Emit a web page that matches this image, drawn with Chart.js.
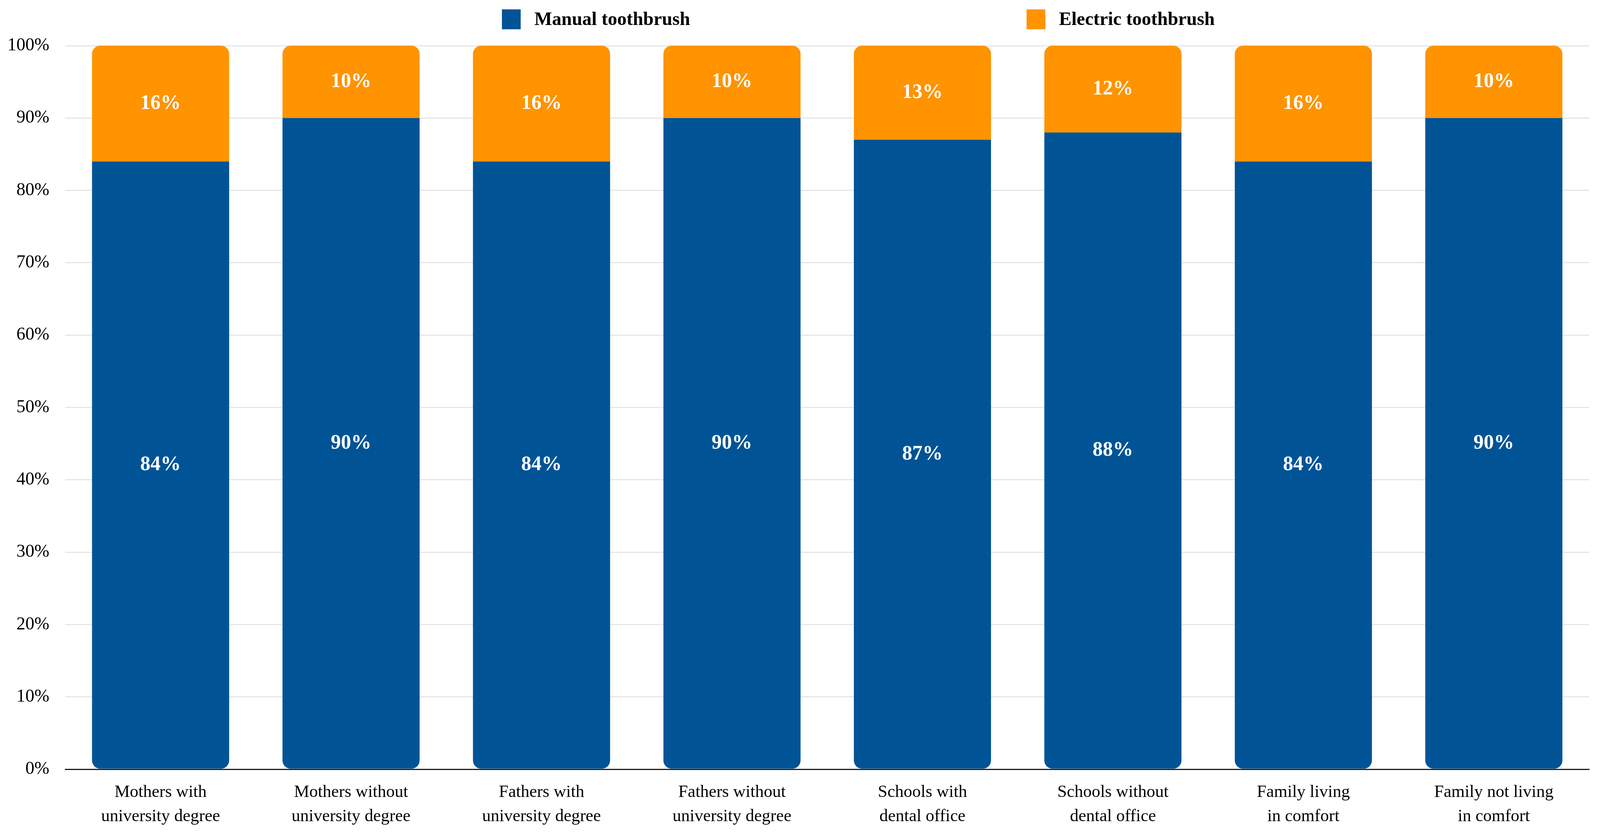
<!DOCTYPE html>
<html>
<head>
<meta charset="utf-8">
<title>Manual vs electric toothbrush</title>
<script src="https://cdn.jsdelivr.net/npm/chart.js@4.4.0/dist/chart.umd.min.js"></script>
<style>
    html, body { margin: 0; padding: 0; background: #ffffff; overflow: hidden; }
    #wrap { position: relative; width: 100vw; height: 100vh; }
</style>
</head>
<body>
<div id="wrap"><canvas id="brushChart"></canvas></div>
<script>
// 数据
const categories = [
    ['Mothers with', 'university degree'],
    ['Mothers without', 'university degree'],
    ['Fathers with', 'university degree'],
    ['Fathers without', 'university degree'],
    ['Schools with', 'dental office'],
    ['Schools without', 'dental office'],
    ['Family living', 'in comfort'],
    ['Family not living', 'in comfort']
];
const manualValues = [84, 90, 84, 90, 87, 88, 84, 90];
const electricValues = [16, 10, 16, 10, 13, 12, 16, 10];
const seriesNames = ['Manual toothbrush', 'Electric toothbrush'];
const yTickLabels = ['0%', '10%', '20%', '30%', '40%', '50%', '60%', '70%', '80%', '90%', '100%'];

const FONT = '"Palatino Linotype", "Book Antiqua", Palatino, "Liberation Serif", serif';
const BLUE = '#005496';
const ORANGE = '#FF9300';

// 段内白色百分比标签
const segmentLabels = {
    id: 'segmentLabels',
    afterDatasetsDraw(chart) {
        const ctx = chart.ctx;
        ctx.save();
        ctx.font = 'bold 52px ' + FONT;
        ctx.fillStyle = '#ffffff';
        ctx.textAlign = 'center';
        ctx.textBaseline = 'middle';
        chart.data.datasets.forEach((ds, di) => {
            const meta = chart.getDatasetMeta(di);
            meta.data.forEach((bar, i) => {
                const p = bar.getCenterPoint();
                ctx.fillText(ds.data[i] + '%', p.x, p.y);
            });
        });
        ctx.restore();
    }
};

// 顶部图例（两项分开排列）
const spreadLegend = {
    id: 'spreadLegend',
    afterDraw(chart, args, opts) {
        const ctx = chart.ctx;
        ctx.save();
        ctx.font = 'bold 48px ' + FONT;
        ctx.textBaseline = 'middle';
        ctx.textAlign = 'left';
        chart.data.datasets.forEach((ds, di) => {
            const x = chart.width * opts.positions[di];
            ctx.fillStyle = ds.backgroundColor;
            ctx.fillRect(x, opts.top, opts.boxW, opts.boxH);
            ctx.fillStyle = '#000000';
            ctx.fillText(ds.label, x + opts.boxW + 35, opts.top + opts.boxH / 2 + 2);
        });
        ctx.restore();
    }
};

new Chart(document.getElementById('brushChart'), {
    type: 'bar',
    data: {
        labels: categories,
        datasets: [
            {
                label: seriesNames[0],
                data: manualValues,
                backgroundColor: BLUE,
                borderSkipped: false,
                borderRadius: { topLeft: 0, topRight: 0, bottomLeft: 21, bottomRight: 21 }
            },
            {
                label: seriesNames[1],
                data: electricValues,
                backgroundColor: ORANGE,
                borderRadius: { topLeft: 21, topRight: 21, bottomLeft: 0, bottomRight: 0 }
            }
        ]
    },
    options: {
        responsive: true,
        maintainAspectRatio: false,
        animation: false,
        layout: {
            padding: { top: 117, right: 28, bottom: -10, left: -22 }
        },
        plugins: {
            legend: { display: false },
            tooltip: { enabled: false },
            spreadLegend: { positions: [0.3137, 0.6416], top: 24, boxW: 48, boxH: 51 }
        },
        scales: {
            x: {
                stacked: true,
                grid: { display: false, drawTicks: false },
                border: { display: true, color: '#1a1a1a', width: 3 },
                ticks: {
                    color: '#000000',
                    padding: 28,
                    maxRotation: 0,
                    autoSkip: false,
                    font: { family: FONT, size: 44, lineHeight: 1.42 }
                }
            },
            y: {
                stacked: true,
                min: 0,
                max: 100,
                grid: { color: '#e6e6e6', lineWidth: 3, drawTicks: false },
                border: { display: false },
                ticks: {
                    stepSize: 10,
                    color: '#000000',
                    padding: 41,
                    font: { family: FONT, size: 46 },
                    callback: (v, i) => yTickLabels[i]
                }
            }
        }
    },
    plugins: [segmentLabels, spreadLegend]
});
</script>
</body>
</html>
